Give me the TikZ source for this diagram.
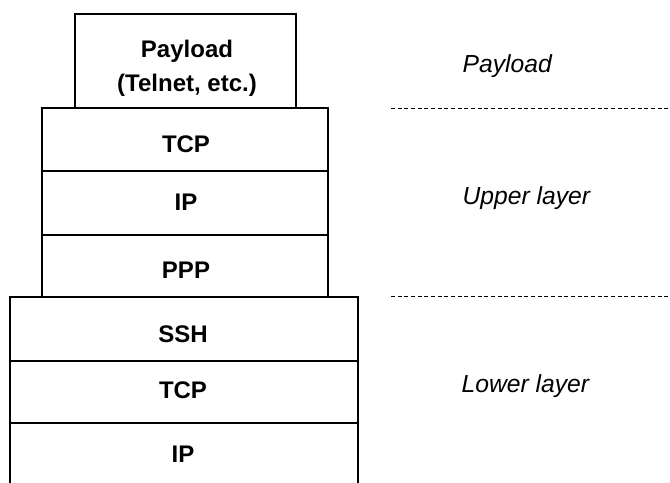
\documentclass[tikz,border=0pt]{standalone}
\usepackage{fontspec}
\setmainfont{Liberation Sans}
\tikzset{
  layer/.style={anchor=base, inner sep=0.75pt, font=\fontsize{18}{25.5}\selectfont\bfseries, align=center},
  side/.style={anchor=base west, inner sep=0pt, font=\fontsize{18.5}{20}\selectfont\itshape},
  sep/.style={dash pattern={on 3pt off 2pt}, line width=0.75pt}
}

\begin{document}
\begin{tikzpicture}[x=0.75pt,y=0.75pt,yscale=-1,xscale=1,line width=0.9pt]
	\clip (0,0) rectangle (670,482);
	% payload
	\draw (75,14) rectangle (296,108);
	% upper layer
	\draw (42,108) rectangle (328,171);
	\draw (42,171) rectangle (328,235);
	\draw (42,235) rectangle (328,297);
	% lower layer
	\draw (10,297) rectangle (358,361);
	\draw (10,361) rectangle (358,423);
	\draw (10,423) rectangle (358,500);
	% texts in the stack
	\node [layer] (payload) at (187,91) {Payload\\(Telnet, etc.)};
	\node [layer] (utcp) at (186,152) {TCP};
	\node [layer] (uip) at (186,210) {IP};
	\node [layer] (uppp) at (186,278) {PPP};
	\node [layer] (ssh) at (183,342) {SSH};
	\node [layer] (ltcp) at (183,398) {TCP};
	\node [layer] (lip) at (183,462) {IP};
	% right side labels
	\node [side] (lpayload) at (462,72) {Payload};
	\node [side] (lupper) at (462,204) {Upper layer};
	\node [side] (llower) at (461,392) {Lower layer};
	\coordinate (s1a) at (391,108);
	\coordinate (s1b) at (670,108);
	\coordinate (s2a) at (391,296);
	\coordinate (s2b) at (670,296);
	\draw [sep] (s1a) -- (s1b);
	\draw [sep] (s2a) -- (s2b);
\end{tikzpicture}
\end{document}
